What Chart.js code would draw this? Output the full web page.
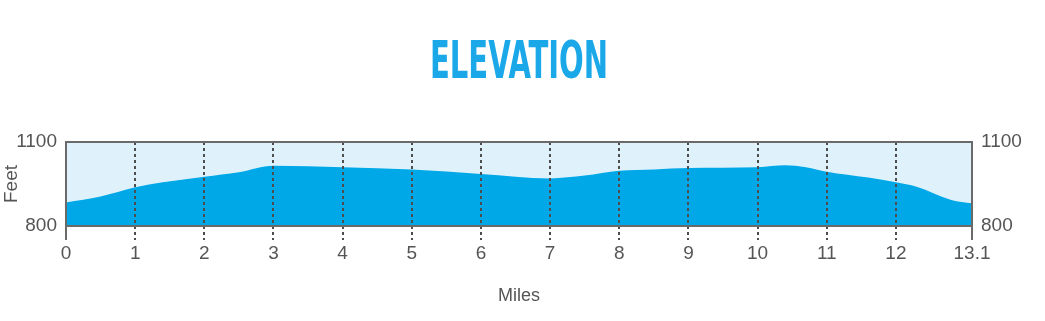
<!DOCTYPE html>
<html>
<head>
<meta charset="utf-8">
<script src="https://cdn.jsdelivr.net/npm/chart.js@4"></script>
<style>
  html, body { margin: 0; padding: 0; background: #fff; }
  #wrap { width: 1045px; height: 321px; }
</style>
</head>
<body>
<div id="wrap"><canvas id="elevation-chart" width="1045" height="321"></canvas></div>
<script>
// course profile
const titleText = 'ELEVATION';
const miles = [0, 0.5, 1, 1.4, 2, 2.5, 3, 4, 5, 6, 7, 7.5, 8, 8.5, 9, 10, 10.4, 10.7, 11, 11.6, 12, 12.3, 12.8, 13.1];
const feet  = [884, 905, 938, 956, 976, 992, 1015, 1010, 1002, 986, 970, 980, 997, 1002, 1007, 1010, 1017, 1010, 994, 973, 956, 940, 893, 881];
const mileTicks = [0, 1, 2, 3, 4, 5, 6, 7, 8, 9, 10, 11, 12, 13.1];
const feetTicks = [800, 1100];

const textGray = '#555';
const lineGray = '#6a6a6a';
const dotGray = '#4d4d4d';

const isEnd = (i) => i === 0 || i === mileTicks.length - 1;

const backdropPlugin = {
    id: 'backdrop',
    beforeDraw(chart) {
        const { ctx, chartArea: a } = chart;
        ctx.save();
        ctx.fillStyle = '#dff2fb';
        ctx.fillRect(a.left, a.top, a.right - a.left, a.bottom - a.top);
        ctx.restore();
    },
    afterDatasetsDraw(chart) {
        // dotted mile lines sit on top of the filled profile
        const { ctx, chartArea: a, scales } = chart;
        ctx.save();
        ctx.strokeStyle = dotGray;
        ctx.lineWidth = 2;
        ctx.setLineDash([3, 3]);
        mileTicks.forEach((m, i) => {
            if (isEnd(i)) return;
            const x = Math.round(scales.x.getPixelForValue(m));
            ctx.beginPath();
            ctx.moveTo(x, a.top);
            ctx.lineTo(x, a.bottom);
            ctx.stroke();
        });
        ctx.restore();
    },
    afterDraw(chart) {
        const { ctx, chartArea: a } = chart;
        ctx.save();
        ctx.strokeStyle = lineGray;
        ctx.lineWidth = 2;
        ctx.strokeRect(a.left, a.top, a.right - a.left, a.bottom - a.top);
        // solid stubs below the corners
        ctx.beginPath();
        ctx.moveTo(a.left, a.bottom); ctx.lineTo(a.left, a.bottom + 14);
        ctx.moveTo(a.right, a.bottom); ctx.lineTo(a.right, a.bottom + 14);
        ctx.stroke();

        // condensed headline
        ctx.font = 'bold 52px "DejaVu Sans Condensed", "DejaVu Sans"';
        ctx.fillStyle = '#1ba8e8';
        ctx.textBaseline = 'alphabetic';
        const w = ctx.measureText(titleText).width;
        const sx = 178 / w;
        ctx.translate(519, 78);
        ctx.scale(sx, 1.0);
        ctx.textAlign = 'center';
        ctx.fillText(titleText, 0, 0);
        ctx.restore();
    }
};

const ctx = document.getElementById('elevation-chart').getContext('2d');
new Chart(ctx, {
    type: 'line',
    data: {
        datasets: [{
            label: 'Elevation',
            data: miles.map((m, i) => ({ x: m, y: feet[i] })),
            fill: 'start',
            backgroundColor: '#00a8e8',
            borderWidth: 0,
            pointRadius: 0,
            cubicInterpolationMode: 'monotone'
        }]
    },
    options: {
        responsive: false,
        animation: false,
        layout: { padding: { top: 142, left: 0, right: 0, bottom: 0 } },
        plugins: {
            legend: { display: false },
            tooltip: { enabled: false }
        },
        scales: {
            x: {
                type: 'linear',
                min: 0,
                max: 13.1,
                afterBuildTicks: (scale) => {
                    scale.ticks = mileTicks.map(v => ({ value: v }));
                },
                afterFit: (scale) => { scale.height = 95; },
                border: { display: false },
                grid: {
                    drawOnChartArea: false,
                    lineWidth: 2,
                    tickBorderDash: [3, 3],
                    tickLength: 14,
                    tickColor: (c) => isEnd(c.index) ? 'rgba(0,0,0,0)' : dotGray
                },
                ticks: {
                    color: textGray,
                    font: { family: 'Liberation Sans', size: 19 },
                    padding: 2,
                    maxRotation: 0,
                    autoSkip: false,
                    callback: (v) => String(v)
                },
                title: {
                    display: true,
                    text: 'Miles',
                    color: textGray,
                    font: { family: 'Liberation Sans', size: 18 },
                    padding: { top: 10, bottom: 14 }
                }
            },
            y: {
                position: 'left',
                min: 800,
                max: 1100,
                afterBuildTicks: (scale) => {
                    scale.ticks = feetTicks.map(v => ({ value: v }));
                },
                afterFit: (scale) => { scale.width = 66; },
                border: { display: false },
                grid: { display: false },
                ticks: {
                    color: textGray,
                    font: { family: 'Liberation Sans', size: 19 },
                    padding: 1,
                    callback: (v) => String(v)
                },
                title: {
                    display: true,
                    text: 'Feet',
                    color: textGray,
                    font: { family: 'Liberation Sans', size: 19 },
                    padding: 0
                }
            },
            y2: {
                position: 'right',
                min: 800,
                max: 1100,
                afterBuildTicks: (scale) => {
                    scale.ticks = feetTicks.map(v => ({ value: v }));
                },
                afterFit: (scale) => { scale.width = 73; },
                border: { display: false },
                grid: { display: false },
                ticks: {
                    color: textGray,
                    font: { family: 'Liberation Sans', size: 19 },
                    padding: 1,
                    callback: (v) => String(v)
                }
            }
        }
    },
    plugins: [backdropPlugin]
});
</script>
</body>
</html>
